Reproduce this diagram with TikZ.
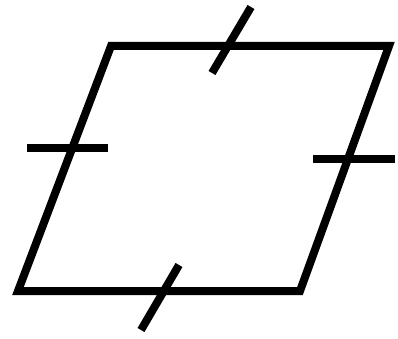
\documentclass[tikz,border=0pt]{standalone}
\begin{document}
\begin{tikzpicture}[x=1pt,y=-1pt,
  edge/.style={line width=8pt,line join=miter,black},
  tick/.style={line width=8pt,line cap=butt,black}]
\useasboundingbox (0,0) rectangle (398,339);
\coordinate (A) at (111,46);
\coordinate (B) at (389,46);
\coordinate (C) at (300,291);
\coordinate (D) at (18,291);
\draw[edge] (A) -- (B) -- (C) -- (D) -- cycle;
\coordinate (t1) at (251,7);
\coordinate (t2) at (212,73);
\coordinate (b1) at (179,265);
\coordinate (b2) at (141,330);
\coordinate (l1) at (27,148);
\coordinate (l2) at (108,148);
\coordinate (r1) at (313,159);
\coordinate (r2) at (395,159);
\draw[tick] (t1) -- (t2);
\draw[tick] (b1) -- (b2);
\draw[tick] (l1) -- (l2);
\draw[tick] (r1) -- (r2);
\end{tikzpicture}
\end{document}
